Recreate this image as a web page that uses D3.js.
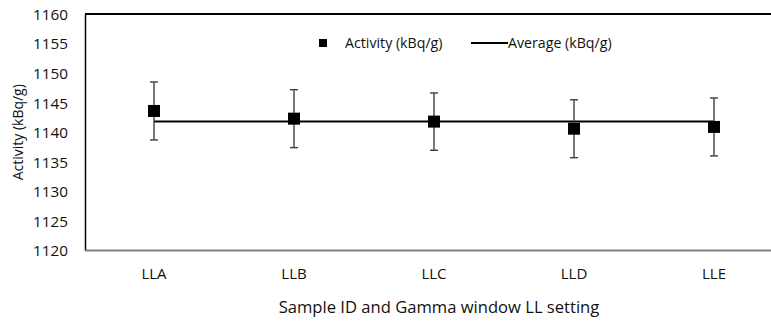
<!DOCTYPE html>
<html>
<head>
<meta charset="utf-8">
<script src="https://cdn.jsdelivr.net/npm/d3@7"></script>
<style>
  body { margin: 0; background: #fff; }
  svg text { font-family: "Open Sans", sans-serif; fill: #111; }
</style>
</head>
<body>
<div id="chart"></div>
<script>
// data
const categories = ['LLA', 'LLB', 'LLC', 'LLD', 'LLE'];
const activity = [1143.6, 1142.3, 1141.8, 1140.6, 1140.9];
const errors = [4.9, 4.9, 4.85, 4.9, 4.9];
const average = 1141.8;
const yTicks = [1120, 1125, 1130, 1135, 1140, 1145, 1150, 1155, 1160];

const width = 771, height = 321;
const margin = { top: 14, left: 85, bottom: 71 };
const plotRight = margin.left + 700; // plot area runs past the window edge

const svg = d3.select('#chart')
  .append('svg')
  .attr('width', width)
  .attr('height', height);

const x = d3.scaleBand()
  .domain(categories)
  .range([margin.left - 1, plotRight - 1]);

const y = d3.scaleLinear()
  .domain([1120, 1160])
  .range([height - margin.bottom + 0.5, margin.top]);

// top border
svg.append('line')
  .attr('x1', margin.left).attr('x2', width)
  .attr('y1', y(1160)).attr('y2', y(1160))
  .attr('stroke', '#000').attr('stroke-width', 2);

// y axis
const yAxis = svg.append('g')
  .attr('transform', `translate(${margin.left},0)`)
  .call(d3.axisLeft(y).tickValues(yTicks).tickFormat(d3.format('d')).tickSize(0).tickPadding(17));
yAxis.select('.domain').attr('stroke', '#000').attr('stroke-width', 1.5);
yAxis.selectAll('text').style('font-size', '15.3px').attr('dy', '0.35em');

// x axis
const xAxis = svg.append('g')
  .attr('transform', `translate(0,${y(1120)})`)
  .call(d3.axisBottom(x).tickSize(0).tickPadding(18));
xAxis.select('.domain').remove();
xAxis.append('line')
  .attr('x1', margin.left).attr('x2', width)
  .attr('stroke', '#7f7f7f').attr('stroke-width', 2);
xAxis.selectAll('text').style('font-size', '15px');

// axis titles
svg.append('text')
  .attr('x', 439).attr('y', 313)
  .attr('text-anchor', 'middle')
  .style('font-size', '16.6px')
  .text('Sample ID and Gamma window LL setting');

svg.append('text')
  .attr('transform', `translate(23,${(y(1120) + y(1160)) / 2}) rotate(-90)`)
  .attr('text-anchor', 'middle')
  .style('font-size', '14px')
  .text('Activity (kBq/g)');

const cx = d => x(d) + x.bandwidth() / 2;

// average line
svg.append('line')
  .attr('x1', cx(categories[0])).attr('x2', cx(categories[categories.length - 1]))
  .attr('y1', y(average)).attr('y2', y(average))
  .attr('stroke', '#000').attr('stroke-width', 2);

// error bars
const pts = categories.map((c, i) => ({ c, v: activity[i], e: errors[i] }));
const eb = svg.append('g').attr('stroke', '#404040').attr('stroke-width', 1.4);
pts.forEach(d => {
  const px = cx(d.c);
  eb.append('line').attr('x1', px).attr('x2', px)
    .attr('y1', y(d.v + d.e)).attr('y2', y(d.v - d.e));
  [d.v + d.e, d.v - d.e].forEach(val => {
    eb.append('line').attr('x1', px - 4).attr('x2', px + 4)
      .attr('y1', y(val)).attr('y2', y(val));
  });
});

// markers
svg.append('g')
  .selectAll('rect')
  .data(pts)
  .enter().append('rect')
  .attr('x', d => cx(d.c) - 6)
  .attr('y', d => y(d.v) - 6)
  .attr('width', 12).attr('height', 12)
  .attr('fill', '#000');

// legend
const legend = svg.append('g').style('font-size', '14.2px');
legend.append('rect')
  .attr('x', 319).attr('y', 39).attr('width', 8).attr('height', 8)
  .attr('fill', '#000');
legend.append('text').attr('x', 345).attr('y', 48).text('Activity (kBq/g)');
legend.append('line')
  .attr('x1', 471).attr('x2', 508).attr('y1', 43).attr('y2', 43)
  .attr('stroke', '#000').attr('stroke-width', 2);
legend.append('text').attr('x', 508).attr('y', 48).text('Average (kBq/g)');
</script>
</body>
</html>
